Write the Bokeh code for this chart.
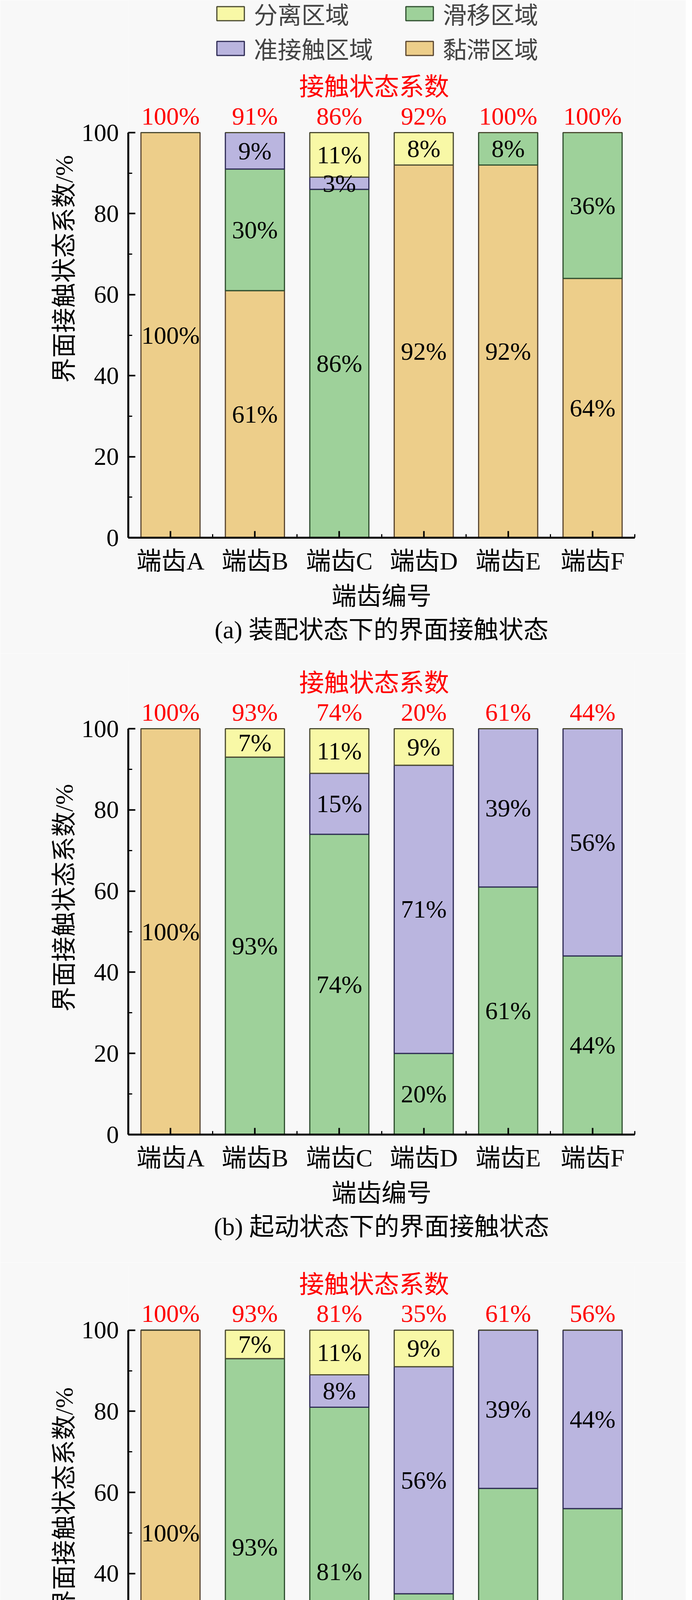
from bokeh.plotting import figure
from bokeh.models import (ColumnDataSource, Range1d, FixedTicker, SingleIntervalTicker,
                          LabelSet, Label, Legend, LegendItem, Title)
from bokeh.layouts import column
from bokeh.embed import file_html
from bokeh.resources import INLINE

# ---------------- data ----------------
teeth = ["端齿A", "端齿B", "端齿C", "端齿D", "端齿E", "端齿F"]
zone_keys = ["stick", "slip", "near", "sep"]            # stacking order, bottom -> top
zone_names = ["黏滞区域", "滑移区域", "准接触区域", "分离区域"]
legend_order = ["分离区域", "滑移区域", "准接触区域", "黏滞区域"]

# (a) assembly state
a_stick = [100, 61, 0, 92, 92, 64]
a_slip = [0, 30, 86, 0, 8, 36]
a_near = [0, 9, 3, 0, 0, 0]
a_sep = [0, 0, 11, 8, 0, 0]
a_coef = [100, 91, 86, 92, 100, 100]

# (b) start-up state
b_stick = [100, 0, 0, 0, 0, 0]
b_slip = [0, 93, 74, 20, 61, 44]
b_near = [0, 0, 15, 71, 39, 56]
b_sep = [0, 7, 11, 9, 0, 0]
b_coef = [100, 93, 74, 20, 61, 44]

# (c) working state
c_stick = [100, 0, 0, 0, 0, 0]
c_slip = [0, 93, 81, 35, 61, 56]
c_near = [0, 0, 8, 56, 39, 44]
c_sep = [0, 7, 11, 9, 0, 0]
c_coef = [100, 93, 81, 35, 61, 56]

captions = ["(a) 装配状态下的界面接触状态",
            "(b) 起动状态下的界面接触状态",
            "(c) 工作状态下的界面接触状态"]
coef_title = "接触状态系数"
x_title = "端齿编号"
y_title = "界面接触状态系数/%"

# ---------------- style ----------------
FONT = "'Liberation Serif', 'Noto Sans CJK SC'"
FS = "64px"
BG = "#F8F8F8"
fills = ["#EDCE8A", "#9ED19A", "#BAB5DF", "#F8F8A6"]
edges = ["#5a4630", "#2f4f2f", "#2e2b55", "#4a4a30"]


def make_panel(stick, slip, near, sep, coef, caption, height, frame_top, line100, line0,
               legend=False):
    unit = (line0 - line100) / 100.0
    y_end = 100 + (line100 - frame_top) / unit
    bottom_b = height - line0
    p = figure(width=1756, height=height, output_backend="svg", toolbar_location=None,
               x_range=Range1d(0, len(teeth)), y_range=Range1d(0, y_end),
               min_border_left=328, min_border_right=131,
               min_border_top=frame_top, min_border_bottom=bottom_b,
               background_fill_color=BG, border_fill_color=BG, outline_line_color=None)
    p.grid.visible = False

    xs = [i + 0.5 for i in range(len(teeth))]
    data = dict(x=xs, stick=stick, slip=slip, near=near, sep=sep,
                top=[a + b + c + d for a, b, c, d in zip(stick, slip, near, sep)],
                coef=[f"{v}%" for v in coef])
    src = ColumnDataSource(data)
    rends = p.vbar_stack(zone_keys, x="x", width=0.7, source=src,
                         fill_color=fills, line_color=edges, line_width=3)

    # labels inside segments
    lx, ly, lt = [], [], []
    series = [stick, slip, near, sep]
    for i in range(len(teeth)):
        base = 0
        for s in series:
            v = s[i]
            if v > 0:
                lx.append(xs[i]); ly.append(base + v / 2); lt.append(f"{v}%")
            base += v
    lsrc = ColumnDataSource(dict(x=lx, y=ly, t=lt))
    p.add_layout(LabelSet(x="x", y="y", text="t", source=lsrc, text_align="center",
                          text_baseline="middle", text_font=FONT, text_font_size=FS,
                          text_color="black"))
    # contact state coefficient above bars
    p.add_layout(LabelSet(x="x", y="top", text="coef", source=src, text_align="center",
                          text_baseline="alphabetic", y_offset=21, text_font=FONT,
                          text_font_size=FS, text_color="#FF0000"))
    # red heading above the coefficients
    p.add_layout(Label(x=len(teeth) / 2, y=100, y_offset=117, x_offset=-19, text=coef_title,
                       text_align="center", text_baseline="middle", text_font=FONT,
                       text_font_size=FS, text_color="#FF0000"))

    # axes
    for ax in (p.xaxis[0], p.yaxis[0]):
        ax.axis_line_width = 5
        ax.axis_line_color = "black"
        ax.major_tick_out = 0
        ax.minor_tick_out = 0
        ax.major_tick_line_width = 4
        ax.minor_tick_line_width = 3
        ax.major_label_text_font = FONT
        ax.major_label_text_font_size = FS
        ax.major_label_text_color = "black"
        ax.axis_label_text_font = FONT
        ax.axis_label_text_font_size = FS
        ax.axis_label_text_font_style = "normal"
        ax.axis_label_text_color = "black"

    xa = p.xaxis[0]
    xa.ticker = FixedTicker(ticks=xs, minor_ticks=list(range(len(teeth) + 1)))
    xa.major_label_overrides = {x: t for x, t in zip(xs, teeth)}
    xa.major_tick_in = 17
    xa.minor_tick_in = 9
    xa.major_label_standoff = 24
    xa.axis_label = x_title
    xa.axis_label_standoff = 16

    ya = p.yaxis[0]
    ya.bounds = (0, 100)
    ya.ticker = SingleIntervalTicker(interval=20, num_minor_ticks=2)
    ya.major_tick_in = 18
    ya.minor_tick_in = 10
    ya.major_label_standoff = 24
    ya.axis_label = y_title
    ya.axis_label_standoff = 6

    p.add_layout(Title(text=caption, align="center", text_font=FONT, text_font_size=FS,
                       text_font_style="normal", text_color="black", standoff=20), "below")

    if legend:
        by_name = dict(zip(zone_names, rends))
        items = [LegendItem(label=n, renderers=[by_name[n]]) for n in legend_order]
        frame_h = line0 - frame_top
        lg = Legend(items=items, orientation="horizontal", ncols=2,
                    location=(218, frame_h - 168),
                    label_text_font=FONT, label_text_font_size="61px", glyph_width=88,
                    glyph_height=45, label_standoff=16, spacing=0, label_width=380,
                    border_line_color=None, background_fill_alpha=0, padding=0, margin=0)
        p.add_layout(lg, "center")
    return p


pa = make_panel(a_stick, a_slip, a_near, a_sep, a_coef, captions[0], 1672, 0, 339, 1376,
                legend=True)
pb = make_panel(b_stick, b_slip, b_near, b_sep, b_coef, captions[1], 1560, 20, 193, 1232)
pc = make_panel(c_stick, c_slip, c_near, c_sep, c_coef, captions[2], 1492, 10, 173, 1213)

layout = column(pa, pb, pc)
open("out.html", "w").write(file_html(layout, INLINE))
